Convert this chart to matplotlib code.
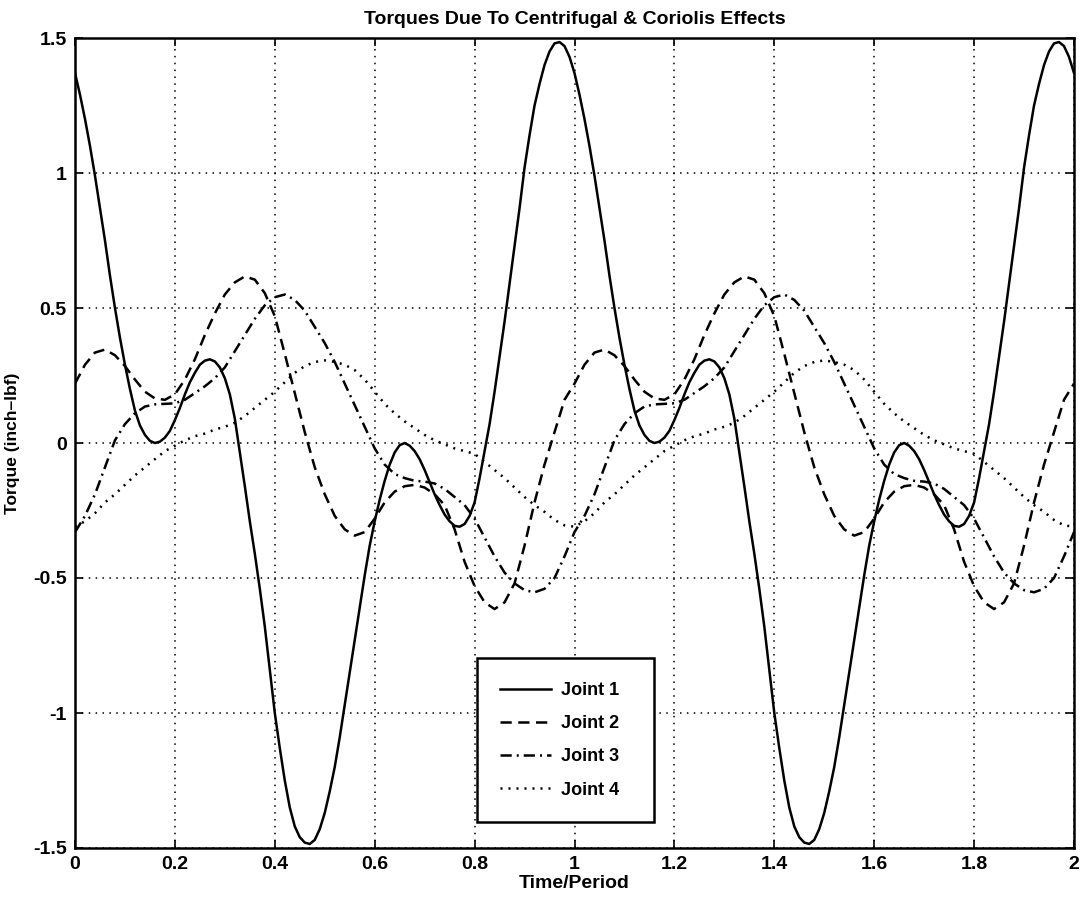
import numpy as np
import matplotlib
matplotlib.use('Agg')
import matplotlib.pyplot as plt

# one period of each curve (x = Time/Period)
# joint 1 swings hard, so it is read on a finer step
t_fine = [0.00, 0.01, 0.02, 0.03, 0.04, 0.05, 0.06, 0.07, 0.08, 0.09,
          0.10, 0.11, 0.12, 0.13, 0.14, 0.15, 0.16, 0.17, 0.18, 0.19,
          0.20, 0.21, 0.22, 0.23, 0.24, 0.25, 0.26, 0.27, 0.28, 0.29,
          0.30, 0.31, 0.32, 0.33, 0.34, 0.35, 0.36, 0.37, 0.38, 0.39,
          0.40, 0.41, 0.42, 0.43, 0.44, 0.45, 0.46, 0.47, 0.48, 0.49,
          0.50, 0.51, 0.52, 0.53, 0.54, 0.55, 0.56, 0.57, 0.58, 0.59,
          0.60, 0.61, 0.62, 0.63, 0.64, 0.65, 0.66, 0.67, 0.68, 0.69,
          0.70, 0.71, 0.72, 0.73, 0.74, 0.75, 0.76, 0.77, 0.78, 0.79,
          0.80, 0.81, 0.82, 0.83, 0.84, 0.85, 0.86, 0.87, 0.88, 0.89,
          0.90, 0.91, 0.92, 0.93, 0.94, 0.95, 0.96, 0.97, 0.98, 0.99]

joint1 = [1.37, 1.29, 1.20, 1.10, 0.99, 0.87, 0.75, 0.62, 0.50, 0.39,
          0.29, 0.20, 0.12, 0.065, 0.03, 0.008, 0.00, 0.005, 0.02, 0.045,
          0.085, 0.13, 0.18, 0.225, 0.26, 0.29, 0.305, 0.31, 0.302, 0.28,
          0.24, 0.18, 0.09, -0.035, -0.16, -0.29, -0.41, -0.54, -0.68, -0.84,
          -1.00, -1.13, -1.25, -1.35, -1.42, -1.46, -1.48, -1.485, -1.47, -1.43,
          -1.37, -1.29, -1.20, -1.09, -0.97, -0.85, -0.73, -0.61, -0.49, -0.38,
          -0.29, -0.21, -0.14, -0.08, -0.035, -0.008, 0.00, -0.01, -0.03, -0.06,
          -0.10, -0.145, -0.19, -0.23, -0.265, -0.29, -0.307, -0.31, -0.30, -0.27,
          -0.22, -0.13, -0.03, 0.07, 0.19, 0.32, 0.45, 0.59, 0.73, 0.87,
          1.02, 1.14, 1.25, 1.33, 1.40, 1.45, 1.48, 1.485, 1.47, 1.43]

t_coarse = [0.00, 0.02, 0.04, 0.06, 0.08, 0.10, 0.12, 0.14, 0.16, 0.18,
            0.20, 0.22, 0.24, 0.26, 0.28, 0.30, 0.32, 0.34, 0.36, 0.38,
            0.40, 0.42, 0.44, 0.46, 0.48, 0.50, 0.52, 0.54, 0.56, 0.58,
            0.60, 0.62, 0.64, 0.66, 0.68, 0.70, 0.72, 0.74, 0.76, 0.78,
            0.80, 0.82, 0.84, 0.86, 0.88, 0.90, 0.92, 0.94, 0.96, 0.98]

joint2 = [0.22, 0.29, 0.335, 0.346, 0.325, 0.285, 0.235, 0.19, 0.165, 0.16,
          0.18, 0.235, 0.31, 0.40, 0.48, 0.55, 0.595, 0.617, 0.605, 0.555,
          0.47, 0.33, 0.185, 0.04, -0.09, -0.19, -0.27, -0.32, -0.343, -0.33,
          -0.28, -0.22, -0.18, -0.16, -0.155, -0.165, -0.19, -0.23, -0.32, -0.44,
          -0.53, -0.59, -0.615, -0.59, -0.52, -0.38, -0.22, -0.08, 0.04, 0.16]

joint3 = [-0.33, -0.27, -0.19, -0.09, 0.01, 0.07, 0.11, 0.135, 0.143, 0.145,
          0.147, 0.16, 0.185, 0.21, 0.24, 0.28, 0.34, 0.40, 0.46, 0.51,
          0.54, 0.55, 0.53, 0.49, 0.43, 0.37, 0.30, 0.22, 0.14, 0.06,
          -0.02, -0.08, -0.115, -0.13, -0.14, -0.143, -0.15, -0.17, -0.20, -0.23,
          -0.28, -0.35, -0.42, -0.48, -0.52, -0.545, -0.553, -0.54, -0.50, -0.42]

joint4 = [-0.31, -0.29, -0.26, -0.22, -0.19, -0.155, -0.12, -0.09, -0.06, -0.03,
          -0.01, 0.01, 0.025, 0.035, 0.05, 0.06, 0.075, 0.10, 0.13, 0.16,
          0.19, 0.225, 0.26, 0.285, 0.30, 0.306, 0.30, 0.29, 0.27, 0.235,
          0.19, 0.145, 0.11, 0.08, 0.055, 0.03, 0.01, -0.005, -0.02, -0.03,
          -0.04, -0.07, -0.10, -0.13, -0.165, -0.20, -0.23, -0.255, -0.285, -0.305]

labels = ['Joint 1', 'Joint 2', 'Joint 3', 'Joint 4']
x_ticks = [0, 0.2, 0.4, 0.6, 0.8, 1, 1.2, 1.4, 1.6, 1.8, 2]
x_ticklabels = ['0', '0.2', '0.4', '0.6', '0.8', '1', '1.2', '1.4', '1.6', '1.8', '2']
y_ticks = [-1.5, -1, -0.5, 0, 0.5, 1, 1.5]
y_ticklabels = ['-1.5', '-1', '-0.5', '0', '0.5', '1', '1.5']


def two_periods(tp, yp):
    # the motion repeats every period: lay the read period down twice
    tt = np.concatenate([tp, np.add(tp, 1.0), [2.0]])
    yy = np.concatenate([yp, yp, [yp[0]]])
    return tt, yy


plt.rcParams['font.family'] = ['Liberation Sans', 'DejaVu Sans']
plt.rcParams['font.weight'] = 'bold'

fig = plt.figure(figsize=(10.81, 9.02), dpi=100)
ax = fig.add_axes([75 / 1081, 54 / 902, 999 / 1081, 810 / 902])

curves = [(t_fine, joint1), (t_coarse, joint2), (t_coarse, joint3), (t_coarse, joint4)]
styles = ['-', (0, (4.5, 2.6)), (0, (4.5, 2.0, 0.8, 2.0)), (0, (0.8, 2.4))]
for (tp, yp), lab, ls in zip(curves, labels, styles):
    tt, yy = two_periods(tp, yp)
    ax.plot(tt, yy, color='black', linewidth=1.8, linestyle=ls, label=lab)

ax.set_xlim(0, 2)
ax.set_ylim(-1.5, 1.5)
ax.set_xticks(x_ticks)
ax.set_xticklabels(x_ticklabels, fontsize=14, fontweight='bold')
ax.set_yticks(y_ticks)
ax.set_yticklabels(y_ticklabels, fontsize=14, fontweight='bold')
ax.tick_params(direction='in', top=True, right=True, length=6, width=1.2, pad=6)
ax.grid(True, color='black', linestyle=(0, (1, 3.5)), linewidth=1.1)
for sp in ax.spines.values():
    sp.set_linewidth(1.8)

ax.set_xlabel('Time/Period', fontsize=14, fontweight='bold', labelpad=1)
ax.set_ylabel('Torque (inch\u2013lbf)', fontsize=12.5, fontweight='bold', labelpad=9)
ax.set_title('Torques Due To Centrifugal & Coriolis Effects', fontsize=14,
             fontweight='bold', pad=10)

leg = ax.legend(loc='lower left', bbox_to_anchor=(0.402, 0.032, 0.178, 0.212),
                mode='expand', borderaxespad=0, fontsize=13, handlelength=2.8,
                handletextpad=0.55, labelspacing=0.9, borderpad=1.3,
                fancybox=False, framealpha=1, edgecolor='black')
leg.get_frame().set_linewidth(1.8)

fig.savefig('out.png', dpi=100)
